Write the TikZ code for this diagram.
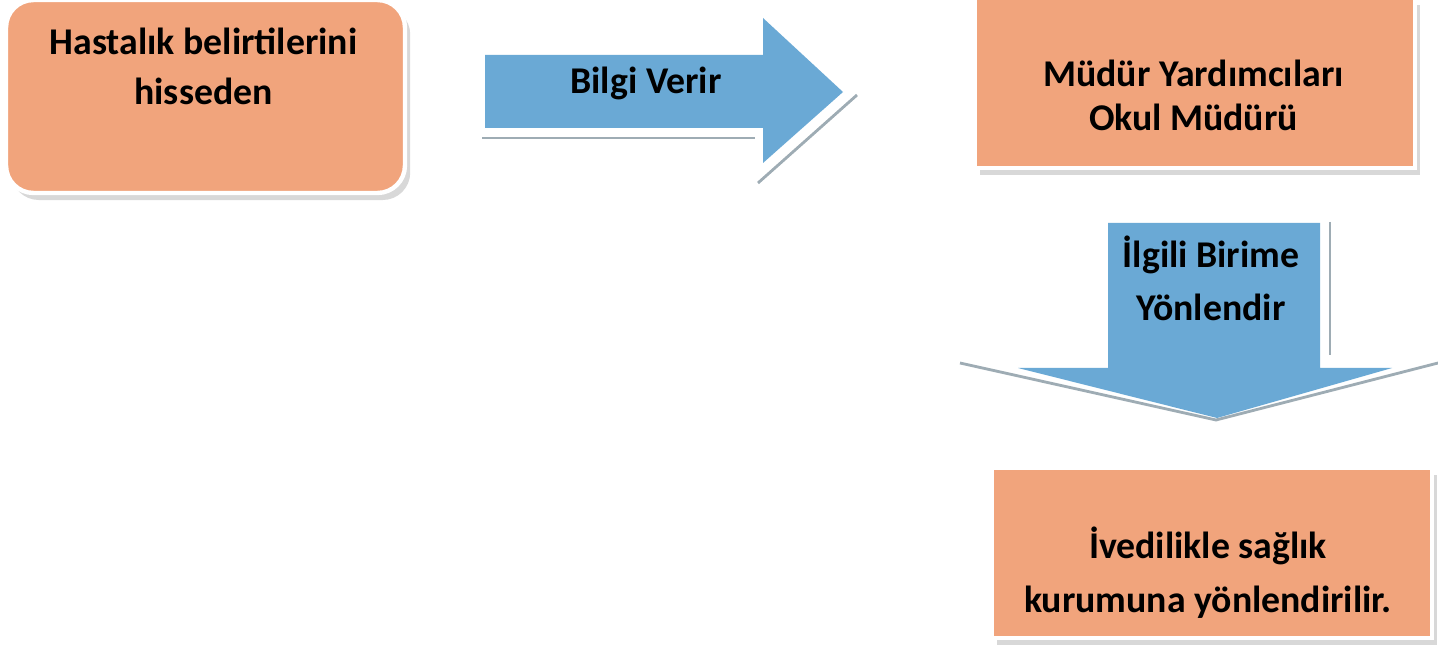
\documentclass[tikz,border=0pt]{standalone}
\usepackage{fontspec}
\setmainfont{Carlito}
\usetikzlibrary{positioning, shadows}
\definecolor{boxorange}{RGB}{241,164,124}
\definecolor{arrowblue}{RGB}{106,169,213}
\definecolor{shadegray}{RGB}{158,172,180}

\begin{document}
\begin{tikzpicture}[x=0.02cm, y=-0.02cm,
		box/.style={fill=boxorange, draw=white, line width=2.5pt, inner sep=0pt,
			drop shadow={shadow xshift=3pt, shadow yshift=-4pt, fill=black!30}},
		boxtext/.style={font=\bfseries\fontsize{21.5}{28.5}\selectfont, align=center, inner sep=0pt},
		blockarrow/.style={fill=arrowblue},
		arrowshade/.style={draw=shadegray, line width=1.6pt}]
		\fill[white] (0,0) rectangle (1438,655);
		\useasboundingbox (0,0) rectangle (1438,655);
		
		% boxes
		\node[box, rounded corners=0.55cm, minimum width=7.98cm, minimum height=3.86cm] (hasta) at (205.5,96.5) {};
		\node[box, minimum width=8.8cm, minimum height=3.4cm] (mudur) at (1195,83) {};
		\node[box, minimum width=8.8cm, minimum height=3.4cm] (kurum) at (1212,553) {};
		
		% block arrows
		\draw[arrowshade] (482,138) -- (755,138);
		\draw[arrowshade] (857,95) -- (758,183);
		\fill[blockarrow] (485,55) -- (763,55) -- (763,18) -- (843,92) -- (763,163) -- (763,128) -- (485,128) -- cycle;
		\draw[arrowshade, line width=0.8pt] (1330,222) -- (1330,355);
		\draw[arrowshade] (960,363) -- (1216,420) -- (1438,363);
		\fill[blockarrow] (1108,223) -- (1320,223) -- (1320,368) -- (1392,368) -- (1217,418) -- (1018,368) -- (1108,368) -- cycle;
		
		% texts
		\node[boxtext] (hastatext) at (203.5,66.5) {Hastalık belirtilerini\\hisseden};
		\node[boxtext] (bilgi) at (646,83) {Bilgi Verir};
		\node[boxtext, font=\bfseries\fontsize{21.5}{25}\selectfont] (mudurtext) at (1193.5,95) {Müdür Yardımcıları\\Okul Müdürü};
		\node[boxtext, font=\bfseries\fontsize{21.5}{30.2}\selectfont] (ilgili) at (1211,278) {İlgili Birime\\Yönlendir};
		\node[boxtext, font=\bfseries\fontsize{21.5}{30.8}\selectfont] (kurumtext) at (1208,573) {İvedilikle sağlık\\kurumuna yönlendirilir.};
	\end{tikzpicture}
\end{document}
